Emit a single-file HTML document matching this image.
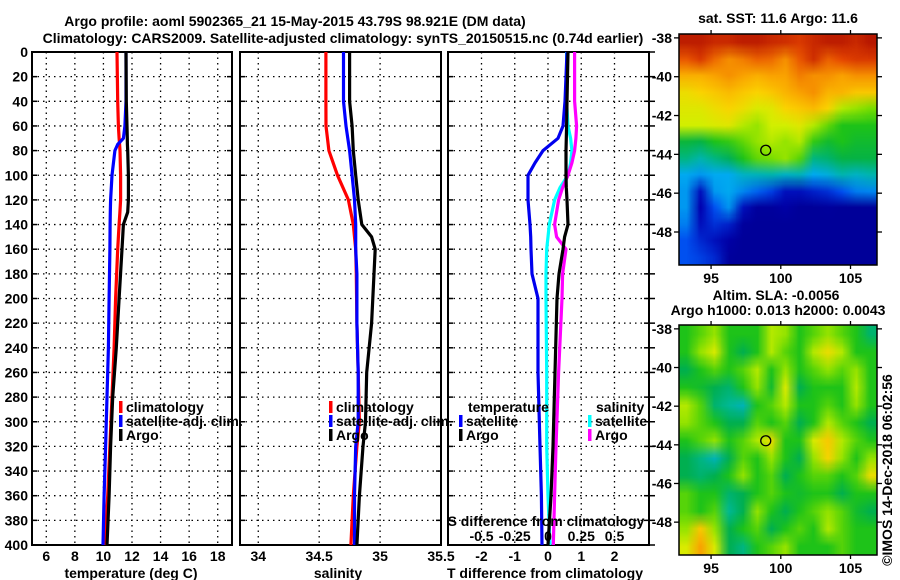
<!DOCTYPE html>
<html><head><meta charset="utf-8"><style>
html,body{margin:0;padding:0;background:#fff;}
#wrap{position:relative;width:900px;height:580px;overflow:hidden;font-family:"Liberation Sans",sans-serif;}
svg text{font-family:"Liberation Sans",sans-serif;font-weight:bold;font-size:14px;fill:#000;}
canvas{position:absolute;}
</style></head><body>
<div id="wrap">
<svg id="s" width="900" height="580" style="position:absolute;left:0;top:0"></svg>
<canvas id="sst"></canvas>
<canvas id="sla"></canvas>
<svg id="ov" width="900" height="580" style="position:absolute;left:0;top:0"></svg>
</div>
<script>
// ---- data ----
const tDepth=[0,40,60,70,75,80,100,120,130,140,160,200,240,280,320,360,400];
const tClim=[10.95,11.0,11.05,11.1,11.13,11.16,11.2,11.2,11.15,11.1,11.0,10.85,10.75,10.6,10.45,10.3,10.1];
const tSat=[11.58,11.58,11.5,11.4,11.0,10.8,10.6,10.5,10.48,10.47,10.45,10.4,10.35,10.25,10.15,10.05,9.97];
const tArgo=[11.58,11.6,11.65,11.67,11.68,11.7,11.75,11.75,11.7,11.4,11.3,11.1,10.9,10.65,10.5,10.4,10.25];
const sDepth=[0,40,60,80,100,120,140,150,160,180,220,260,300,320,360,400];
const sClim=[34.555,34.555,34.556,34.58,34.65,34.74,34.78,34.79,34.8,34.805,34.81,34.82,34.83,34.81,34.78,34.76];
const sSat=[34.7,34.7,34.72,34.75,34.77,34.79,34.8,34.8,34.8,34.81,34.81,34.82,34.82,34.8,34.79,34.79];
const sArgo=[34.75,34.75,34.77,34.78,34.8,34.82,34.85,34.93,34.96,34.95,34.93,34.89,34.88,34.86,34.83,34.81];
const dDepth=[0,40,60,70,80,90,100,110,120,140,150,160,180,200,260,320,360,400];
const dTsat=[0.57,0.51,0.45,0.3,-0.15,-0.39,-0.6,-0.6,-0.6,-0.54,-0.52,-0.51,-0.48,-0.3,-0.3,-0.24,-0.2,-0.18];
const dTargo=[0.6,0.57,0.56,0.55,0.54,0.54,0.54,0.55,0.57,0.6,0.5,0.45,0.33,0.27,0.21,0.15,0.09,0.0];
const dSsat=[0.14,0.14,0.15,0.17,0.18,0.17,0.15,0.09,0.05,0.01,0.0,-0.01,-0.015,-0.015,-0.01,-0.01,0.0,0.015];
const dSargo=[0.2,0.2,0.215,0.21,0.2,0.18,0.15,0.11,0.08,0.05,0.065,0.135,0.11,0.105,0.08,0.06,0.05,0.04];
const depthTicks=[0,20,40,60,80,100,120,140,160,180,200,220,240,260,280,300,320,340,360,380,400];
const tTicks=[6,8,10,12,14,16,18];
const sTicks=[34,34.5,35,35.5];
const dTicks=[-2,-1,0,1,2];
const dsTicks=[-0.5,-0.25,0,0.25,0.5];
const latTicks=[-38,-40,-42,-44,-46,-48];
const lonTicks=[95,100,105];
const sstGrid=[
[.95,.95,.93,.93,.95,.95,.93,.92,.9,.93,.95,.95,.93,.96],
[.86,.9,.84,.8,.82,.85,.84,.8,.86,.92,.85,.88,.9,.9],
[.76,.76,.78,.8,.78,.76,.78,.78,.82,.8,.8,.78,.8,.8],
[.68,.7,.72,.74,.72,.7,.72,.75,.78,.8,.75,.75,.72,.72],
[.66,.66,.68,.7,.68,.65,.66,.7,.72,.74,.7,.62,.6,.58],
[.64,.64,.65,.66,.62,.6,.64,.64,.66,.62,.56,.5,.5,.5],
[.47,.46,.5,.52,.56,.6,.62,.6,.62,.52,.48,.5,.48,.48],
[.4,.36,.4,.44,.5,.56,.58,.6,.55,.4,.42,.46,.46,.46],
[.3,.28,.3,.3,.34,.35,.36,.34,.35,.3,.32,.36,.34,.36],
[.28,.12,.28,.3,.26,.22,.18,.12,.12,.14,.16,.2,.25,.26],
[.28,.1,.2,.28,.12,.06,.06,.08,.05,.05,.06,.05,.05,.05],
[.25,.12,.16,.14,.06,.05,.05,.05,.05,.05,.05,.05,.05,.05],
[.2,.15,.12,.08,.05,.05,.05,.05,.05,.05,.05,.05,.05,.05],
[.2,.18,.15,.06,.05,.05,.05,.05,.05,.05,.05,.05,.05,.05]];
const slaGrid=[
[.5,.55,.6,.5,.5,.5,.62,.6,.5,.55,.6,.55,.5,.42],
[.5,.6,.65,.5,.45,.5,.62,.55,.5,.62,.68,.62,.5,.5],
[.45,.5,.55,.5,.55,.62,.5,.6,.5,.55,.6,.55,.6,.5],
[.5,.48,.45,.42,.5,.6,.48,.65,.45,.5,.5,.5,.62,.5],
[.62,.55,.42,.38,.35,.5,.55,.62,.5,.5,.55,.5,.6,.5],
[.6,.55,.5,.45,.45,.55,.5,.55,.45,.5,.62,.55,.5,.45],
[.5,.55,.6,.5,.55,.62,.68,.5,.5,.65,.72,.62,.55,.5],
[.45,.4,.35,.45,.55,.5,.6,.5,.45,.6,.7,.6,.5,.6],
[.45,.42,.45,.5,.6,.5,.55,.45,.5,.55,.55,.5,.55,.68],
[.55,.5,.5,.42,.45,.5,.55,.5,.48,.5,.5,.45,.5,.5],
[.55,.5,.55,.38,.45,.6,.5,.45,.5,.55,.6,.55,.48,.45],
[.6,.72,.6,.45,.5,.55,.45,.5,.55,.5,.62,.55,.5,.5],
[.65,.78,.65,.45,.4,.5,.55,.6,.5,.5,.5,.55,.5,.5]];
const argoLon=98.921, argoLat=-43.79;

const NS='http://www.w3.org/2000/svg';
function mk(parent,tag,attrs,txt){const e=document.createElementNS(NS,tag);for(const k in attrs)e.setAttribute(k,attrs[k]);if(txt!==undefined)e.textContent=txt;parent.appendChild(e);return e;}
const svg=document.getElementById('s');
const Y0=52,Y1=545;
const yD=d=>Y0+(d/400)*(Y1-Y0);
function lin(d0,d1,p0,p1){return v=>p0+(v-d0)/(d1-d0)*(p1-p0);}

function panel(name,L,R,xs,xticks,fmt,grid){
  const g=mk(svg,'g',{});
  
  
  if(grid){
    xticks.forEach(t=>{const x=xs(t);if(x>L+1&&x<R-1)mk(g,'line',{x1:x,x2:x,y1:Y0,y2:Y1,stroke:'#000','stroke-width':1.3,'stroke-dasharray':'1.5,4'});});
  }
  depthTicks.forEach(d=>{const y=yD(d);if(d>0&&d<400)mk(g,'line',{x1:L,x2:R,y1:y,y2:y,stroke:'#000','stroke-width':1.3,'stroke-dasharray':'1.5,4'});
    mk(g,'line',{x1:L,x2:L+5,y1:y,y2:y,stroke:'#000','stroke-width':1.5});mk(g,'line',{x1:R-5,x2:R,y1:y,y2:y,stroke:'#000','stroke-width':1.5});});
  mk(g,'rect',{x:L,y:Y0,width:R-L,height:Y1-Y0,fill:'none',stroke:'#000','stroke-width':2});
  if(fmt)xticks.forEach(t=>{mk(g,'text',{x:xs(t),y:561,'text-anchor':'middle'},fmt(t));});
  return g;
}
function line(g,name,xs,vals,depths,color){
  let d='';vals.forEach((v,i)=>{d+=(i?'L':'M')+xs(v).toFixed(1)+','+yD(depths[i]).toFixed(1);});
  const p=mk(g,'path',{d:d,fill:'none',stroke:color,'stroke-width':3.2,'stroke-linejoin':'round'});
  
  
}
function legend(g,x,y,color,label){
  mk(g,'rect',{x:x,y:y-11,width:3.5,height:12,fill:color});
  mk(g,'text',{x:x+7,y:y},label);
}
// titles
const t1=mk(svg,'text',{x:295,y:26,'text-anchor':'middle','font-size':'16.5'},'Argo profile: aoml 5902365_21 15-May-2015 43.79S 98.921E (DM data)');

const t2=mk(svg,'text',{x:343,y:43,'text-anchor':'middle','font-size':'16.5'},'Climatology: CARS2009. Satellite-adjusted climatology: synTS_20150515.nc (0.74d earlier)');

// depth labels
depthTicks.forEach(d=>{mk(svg,'text',{x:28,y:yD(d)+5,'text-anchor':'end'},String(d));});

// panel 1
const xT=lin(5,19,32,232);
const g1=panel('temperature-panel',32,232,xT,tTicks,String,true);
line(g1,'temperature-climatology-line',xT,tClim,tDepth,'#ff0000');
line(g1,'temperature-satellite-line',xT,tSat,tDepth,'#0000ff');
line(g1,'temperature-argo-line',xT,tArgo,tDepth,'#000');
legend(g1,119,412,'#ff0000','climatology');legend(g1,119,426,'#0000ff','satellite-adj. clim.');legend(g1,119,440,'#000','Argo');
mk(svg,'text',{x:131,y:578,'text-anchor':'middle','font-size':'15'},'temperature (deg C)');

// panel 2
const xS=lin(33.85,35.5,240,441);
const g2=panel('salinity-panel',240,441,xS,sTicks,String,true);
line(g2,'salinity-climatology-line',xS,sClim,sDepth,'#ff0000');
line(g2,'salinity-satellite-line',xS,sSat,sDepth,'#0000ff');
line(g2,'salinity-argo-line',xS,sArgo,sDepth,'#000');
legend(g2,329,412,'#ff0000','climatology');legend(g2,329,426,'#0000ff','satellite-adj. clim.');legend(g2,329,440,'#000','Argo');
mk(svg,'text',{x:338,y:578,'text-anchor':'middle','font-size':'15'},'salinity');

// panel 3
const xD=lin(-2,2,481.5,614.5);
const xDS=lin(-0.5,0.5,481.5,614.5);
const g3=panel('difference-panel',448,649,xD,dTicks,String,true);
depthTicks.forEach(d=>{const y=yD(d);mk(g3,'line',{x1:649,x2:655,y1:y,y2:y,stroke:'#000','stroke-width':1.5});});
line(g3,'salinity-diff-satellite-line',xDS,dSsat,dDepth,'#00ffff');
line(g3,'salinity-diff-argo-line',xDS,dSargo,dDepth,'#ff00ff');
line(g3,'temperature-diff-satellite-line',xD,dTsat,dDepth,'#0000ee');
line(g3,'temperature-diff-argo-line',xD,dTargo,dDepth,'#000');
mk(g3,'text',{x:468,y:412},'temperature');
legend(g3,459,426,'#0000ff','satellite');legend(g3,459,440,'#000','Argo');
mk(g3,'text',{x:596,y:412},'salinity');
legend(g3,588,426,'#00ffff','satellite');legend(g3,588,440,'#ff00ff','Argo');
mk(g3,'text',{x:546,y:526,'text-anchor':'middle'},'S difference from climatology');
dsTicks.forEach(t=>{mk(g3,'text',{x:xDS(t),y:541,'text-anchor':'middle'},String(t));});
mk(svg,'text',{x:545,y:578,'text-anchor':'middle','font-size':'15'},'T difference from climatology');

// maps
const stops=[[0,[0,0,130]],[.1,[0,0,175]],[.2,[0,80,240]],[.3,[0,170,240]],[.38,[0,185,150]],[.45,[0,175,80]],[.5,[30,195,25]],[.58,[120,222,0]],[.64,[210,240,0]],[.7,[250,212,0]],[.78,[250,162,0]],[.88,[230,70,0]],[1,[160,0,0]]];
function cmap(v){for(let i=1;i<stops.length;i++){if(v<=stops[i][0]){const a=stops[i-1],b=stops[i];const f=(v-a[0])/(b[0]-a[0]);return a[1].map((c,k)=>Math.round(c+(b[1][k]-c)*f));}}return stops[stops.length-1][1];}
function drawMap(id,grid,L,T,W,H,smooth){
  const cv=document.getElementById(id);cv.width=W;cv.height=H;cv.style.left=L+'px';cv.style.top=T+'px';
  const rows=grid.length,cols=grid[0].length;
  const sm=document.createElement('canvas');sm.width=cols;sm.height=rows;
  const sc=sm.getContext('2d');const img=sc.createImageData(cols,rows);
  grid.forEach((r,i)=>r.forEach((v,j)=>{const c=cmap(v);const o=(i*cols+j)*4;img.data[o]=c[0];img.data[o+1]=c[1];img.data[o+2]=c[2];img.data[o+3]=255;}));
  sc.putImageData(img,0,0);
  const ctx=cv.getContext('2d');ctx.imageSmoothingEnabled=smooth;ctx.drawImage(sm,0,0,W,H);
}
drawMap('sst',sstGrid,679,34,198,231,true);
drawMap('sla',slaGrid,679,325,198,230,true);
const ov=document.getElementById('ov');
const lonX=lin(92.7,106.9,679,877);
function mapFrame(name,T,B,title1,title2){
  const g=mk(ov,'g',{});
  
  
  const latY=lin(-37.8,-49.7,T,B);
  mk(g,'rect',{x:679,y:T,width:198,height:B-T,fill:'none',stroke:'#000','stroke-width':1.5});
  latTicks.forEach(l=>{const y=latY(l);mk(g,'line',{x1:679,x2:674,y1:y,y2:y,stroke:'#000','stroke-width':1.3});mk(g,'line',{x1:877,x2:882,y1:y,y2:y,stroke:'#000','stroke-width':1.3});mk(g,'text',{x:672,y:y+5,'text-anchor':'end'},String(l));});
  lonTicks.forEach(l=>{const x=lonX(l);mk(g,'line',{x1:x,x2:x,y1:B,y2:B+4,stroke:'#000','stroke-width':1.3});mk(g,'line',{x1:x,x2:x,y1:T,y2:T-4,stroke:'#000','stroke-width':1.3});mk(g,'text',{x:x,y:B+18,'text-anchor':'middle'},String(l));});
  const c=mk(g,'circle',{cx:lonX(argoLon),cy:latY(argoLat),r:5,fill:'none',stroke:'#000','stroke-width':1.3});
  
  if(title2){mk(g,'text',{x:776,y:T-25,'text-anchor':'middle'},title1);mk(g,'text',{x:778,y:T-10,'text-anchor':'middle'},title2);}
  else mk(g,'text',{x:778,y:T-11,'text-anchor':'middle'},title1);
}
mapFrame('sst-map-frame',34,265,'sat. SST: 11.6 Argo: 11.6');
mapFrame('sla-map-frame',325,555,'Altim. SLA: -0.0056','Argo h1000: 0.013 h2000: 0.0043');
const cr=mk(ov,'text',{x:0,y:0,transform:'translate(892,470) rotate(-90)','text-anchor':'middle','font-weight':'normal','font-size':'14'},'©IMOS 14-Dec-2018 06:02:56');

</script>
</body></html>
